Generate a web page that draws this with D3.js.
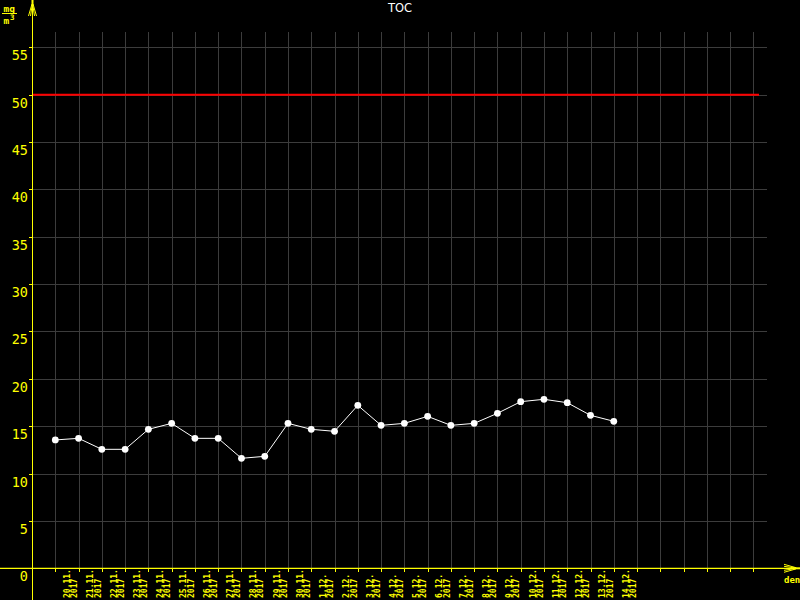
<!DOCTYPE html>
<html>
<head>
<meta charset="utf-8">
<script src="https://cdn.jsdelivr.net/npm/d3@7"></script>
<style>
  html, body { margin: 0; padding: 0; background: #000; }
  svg { display: block; }
</style>
</head>
<body>
<svg id="chart" width="800" height="600"></svg>
<script>
// ---- data ----
const title = "TOC";
const dates = ["20.11.","21.11.","22.11.","23.11.","24.11.","25.11.","26.11.","27.11.","28.11.","29.11.","30.11.",
  "1.12.","2.12.","3.12.","4.12.","5.12.","6.12.","7.12.","8.12.","9.12.","10.12.","11.12.","12.12.","13.12.","14.12."];
const years = dates.map(() => "2017");
const values = [13.55, 13.72, 12.56, 12.56, 14.67, 15.3, 13.72, 13.72, 11.61, 11.82, 15.3,
  14.67, 14.46, 17.2, 15.09, 15.3, 16.04, 15.09, 15.3, 16.36, 17.59, 17.84, 17.48, 16.15, 15.52];
const limitValue = 50;
const yTicks = [0, 5, 10, 15, 20, 25, 30, 35, 40, 45, 50, 55];
const daySlots = 31;

// ---- setup ----
const svg = d3.select("#chart");
const YEL = "#ffff00", GRID = "#3c3c3c";
svg.append("rect").attr("width", 800).attr("height", 600).attr("fill", "#000");

const axisX = 32, axisY = 568.3;
const x = d3.scaleLinear().domain([0, daySlots - 1]).range([55.3, 753.4]);
const y = d3.scaleLinear().domain([0, 55]).range([axisY, 47.3]);

// grid
const grid = svg.append("g").attr("shape-rendering", "crispEdges");
grid.selectAll("line.h").data(yTicks.filter(d => d > 0)).enter().append("line")
  .attr("x1", axisX).attr("x2", 767)
  .attr("y1", d => Math.round(y(d)) + 0.5).attr("y2", d => Math.round(y(d)) + 0.5)
  .attr("stroke", GRID).attr("stroke-width", 1);
grid.selectAll("line.v").data(d3.range(daySlots)).enter().append("line")
  .attr("x1", d => Math.round(x(d)) + 0.5).attr("x2", d => Math.round(x(d)) + 0.5)
  .attr("y1", 32).attr("y2", axisY)
  .attr("stroke", GRID).attr("stroke-width", 1);

// limit line
svg.append("line")
  .attr("x1", axisX).attr("x2", 759)
  .attr("y1", y(limitValue)).attr("y2", y(limitValue))
  .attr("stroke", "#ff0000").attr("stroke-width", 2);

// y axis
const yAxis = svg.append("g").attr("transform", `translate(${axisX + 0.5},0)`)
  .call(d3.axisLeft(y).tickValues(yTicks).tickSize(4).tickSizeOuter(0));
yAxis.select(".domain").remove();
yAxis.selectAll(".tick line").attr("stroke", YEL).attr("shape-rendering", "crispEdges");
yAxis.selectAll(".tick text")
  .attr("x", -4.5).attr("dy", 0).attr("y", 12.5)
  .attr("fill", YEL)
  .attr("font-family", "DejaVu Sans Mono").attr("font-size", 13.5)
  .attr("text-anchor", "end");

// x axis
const xAxis = svg.append("g").attr("transform", `translate(0,${axisY})`)
  .call(d3.axisBottom(x).tickValues(d3.range(daySlots)).tickSize(4).tickSizeOuter(0).tickFormat(""));
xAxis.select(".domain").remove();
xAxis.selectAll(".tick line").attr("stroke", YEL).attr("shape-rendering", "crispEdges");

// date labels
const lab = svg.append("g")
  .attr("fill", YEL).attr("font-family", "DejaVu Sans Mono")
  .attr("font-size", 8).attr("font-weight", "bold");
dates.forEach((d, i) => {
  const gx = x(i);
  lab.append("text").attr("transform", `translate(${gx + 14.8},598) rotate(-90)`).text(d);
  lab.append("text").attr("transform", `translate(${gx + 22},598) rotate(-90)`).text(years[i]);
});

// axis lines
svg.append("line").attr("x1", axisX + 0.5).attr("x2", axisX + 0.5).attr("y1", 0).attr("y2", 600)
  .attr("stroke", YEL).attr("stroke-width", 1);
svg.append("line").attr("x1", 0).attr("x2", 797).attr("y1", axisY).attr("y2", axisY)
  .attr("stroke", YEL).attr("stroke-width", 1.2);

// arrows
svg.append("path").attr("d", "M28.5,16 L32,4 M30.5,16 L32.2,5 M34.5,16 L32.8,5 M36.5,16 L33,4")
  .attr("stroke", YEL).attr("fill", "none").attr("stroke-width", 1);
svg.append("rect").attr("x", 31.5).attr("y", 0).attr("width", 2).attr("height", 6).attr("fill", YEL);
svg.append("path").attr("d", `M784,${axisY - 4} L796,${axisY - 0.6} M784,${axisY - 2} L795,${axisY - 0.3} M784,${axisY + 2} L795,${axisY + 0.3} M784,${axisY + 4} L796,${axisY + 0.6}`)
  .attr("stroke", YEL).attr("fill", "none").attr("stroke-width", 1);
svg.append("rect").attr("x", 793).attr("y", axisY - 1).attr("width", 7).attr("height", 2).attr("fill", YEL);

svg.append("text").attr("x", 784).attr("y", 583).attr("fill", YEL)
  .attr("font-family", "DejaVu Sans Mono").attr("font-size", 9).attr("font-weight", "bold").text("den");

// unit
const u = svg.append("g").attr("fill", YEL).attr("font-family", "DejaVu Sans Mono")
  .attr("font-size", 9.5).attr("font-weight", "bold");
u.append("text").attr("x", 3.5).attr("y", 11.5).text("mg");
u.append("line").attr("x1", 2).attr("x2", 17).attr("y1", 13.5).attr("y2", 13.5)
  .attr("stroke", YEL).attr("stroke-width", 1);
u.append("text").attr("x", 3.5).attr("y", 23.5).text("m");
u.append("text").attr("x", 10).attr("y", 20).attr("font-size", 7.5).text("3");

// title
svg.append("text").attr("x", 400).attr("y", 12).attr("text-anchor", "middle")
  .attr("fill", "#fff").attr("font-family", "DejaVu Sans").attr("font-size", 11.5).text(title);

// series
const line = d3.line().x((d, i) => x(i)).y(d => y(d));
svg.append("path").datum(values).attr("d", line)
  .attr("fill", "none").attr("stroke", "#fff").attr("stroke-width", 1);
svg.selectAll("circle.pt").data(values).enter().append("circle")
  .attr("cx", (d, i) => x(i)).attr("cy", d => y(d)).attr("r", 3.4).attr("fill", "#fff");
</script>
</body>
</html>
